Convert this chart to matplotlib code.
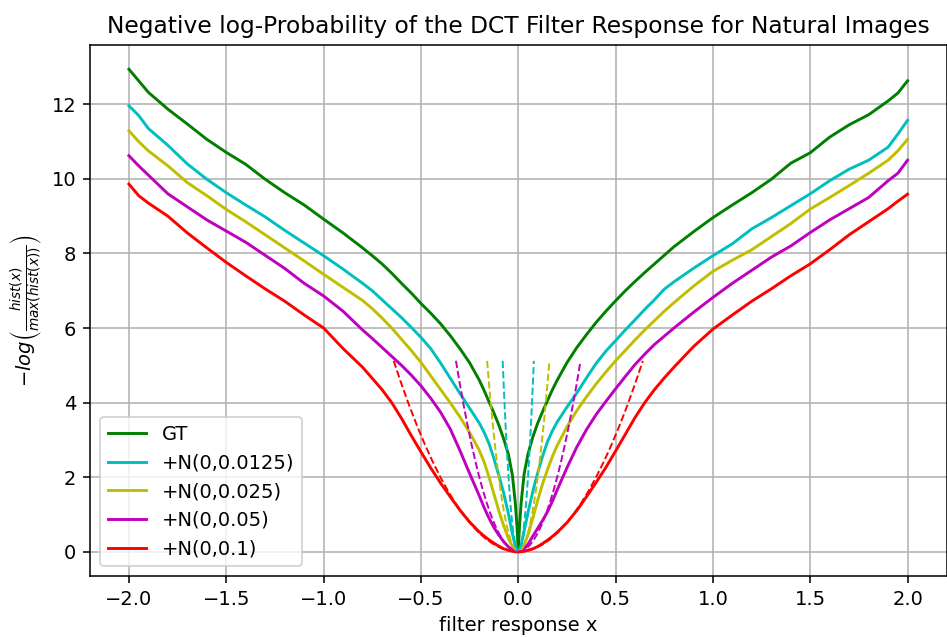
import matplotlib
matplotlib.use('Agg')
import matplotlib.pyplot as plt

# filter response grid shared by all histogram curves
x_resp = [-2.0, -1.95, -1.9, -1.8, -1.7, -1.6, -1.5, -1.4, -1.3, -1.2, -1.1, -1.0,
          -0.9, -0.8, -0.75, -0.7, -0.65, -0.6, -0.55, -0.5,
          -0.45, -0.4, -0.35, -0.3, -0.25, -0.2,
          -0.175, -0.15, -0.125, -0.1, -0.075, -0.05,
          -0.03, -0.015, -0.006, 0.0,
          0.006, 0.015, 0.03, 0.05, 0.075, 0.1, 0.125, 0.15, 0.175, 0.2,
          0.25, 0.3, 0.35, 0.4, 0.45, 0.5, 0.55, 0.6, 0.65, 0.7,
          0.75, 0.8, 0.9, 1.0, 1.1, 1.2, 1.3, 1.4, 1.5, 1.6,
          1.7, 1.8, 1.9, 1.95, 2.0]

gt = [12.94, 12.63, 12.32, 11.87, 11.47, 11.06, 10.71, 10.39, 9.99, 9.63, 9.30, 8.92,
      8.55, 8.15, 7.94, 7.72, 7.47, 7.20, 6.94, 6.66,
      6.40, 6.12, 5.80, 5.45, 5.07, 4.60,
      4.32, 4.02, 3.72, 3.40, 3.03, 2.60,
      2.05, 1.30, 0.65, 0.0,
      0.65, 1.32, 2.08, 2.62, 3.08, 3.45, 3.76, 4.05, 4.34, 4.60,
      5.07, 5.47, 5.82, 6.15, 6.45, 6.73, 7.00, 7.25, 7.49, 7.72,
      7.95, 8.18, 8.58, 8.96, 9.30, 9.63, 9.99, 10.42, 10.70, 11.12,
      11.45, 11.72, 12.09, 12.30, 12.63]

n0125 = [11.96, 11.70, 11.35, 10.90, 10.40, 9.99, 9.63, 9.30, 8.98, 8.62, 8.28, 7.94,
         7.58, 7.20, 7.00, 6.76, 6.52, 6.28, 6.02, 5.75,
         5.45, 5.07, 4.66, 4.25, 3.85, 3.45,
         3.20, 2.90, 2.50, 2.05, 1.58, 1.00,
         0.48, 0.15, 0.03, 0.0,
         0.03, 0.17, 0.55, 1.05, 1.62, 2.12, 2.56, 2.95, 3.24, 3.48,
         3.88, 4.25, 4.66, 5.05, 5.38, 5.66, 5.95, 6.22, 6.50, 6.76,
         7.04, 7.24, 7.60, 7.94, 8.26, 8.66, 8.96, 9.28, 9.60, 9.95,
         10.26, 10.50, 10.85, 11.20, 11.57]

n025 = [11.29, 11.00, 10.75, 10.35, 9.90, 9.55, 9.18, 8.85, 8.50, 8.15, 7.80, 7.44,
        7.09, 6.74, 6.52, 6.27, 6.00, 5.70, 5.40, 5.08,
        4.72, 4.36, 4.00, 3.62, 3.20, 2.72,
        2.40, 2.00, 1.55, 1.10, 0.70, 0.35,
        0.14, 0.04, 0.01, 0.0,
        0.01, 0.05, 0.18, 0.45, 0.90, 1.38, 1.82, 2.20, 2.55, 2.85,
        3.35, 3.78, 4.15, 4.50, 4.82, 5.12, 5.40, 5.68, 5.95, 6.20,
        6.45, 6.68, 7.12, 7.52, 7.82, 8.10, 8.45, 8.80, 9.19, 9.50,
        9.82, 10.15, 10.50, 10.75, 11.06]

n05 = [10.62, 10.35, 10.10, 9.60, 9.25, 8.90, 8.60, 8.30, 7.95, 7.60, 7.20, 6.86,
       6.45, 5.95, 5.72, 5.48, 5.24, 5.00, 4.74, 4.45,
       4.12, 3.75, 3.30, 2.72, 2.10, 1.50,
       1.18, 0.90, 0.65, 0.45, 0.27, 0.13,
       0.05, 0.01, 0.0, 0.0,
       0.0, 0.02, 0.07, 0.20, 0.42, 0.63, 0.84, 1.07, 1.35, 1.66,
       2.25, 2.80, 3.27, 3.68, 4.03, 4.37, 4.70, 5.02, 5.30, 5.56,
       5.78, 6.00, 6.42, 6.82, 7.20, 7.55, 7.90, 8.20, 8.56, 8.90,
       9.20, 9.50, 9.95, 10.15, 10.50]

n1 = [9.86, 9.55, 9.35, 9.00, 8.55, 8.15, 7.76, 7.40, 7.05, 6.72, 6.35, 6.00,
      5.45, 4.95, 4.65, 4.35, 4.00, 3.58, 3.12, 2.68,
      2.25, 1.85, 1.48, 1.12, 0.80, 0.53,
      0.42, 0.32, 0.23, 0.15, 0.08, 0.04,
      0.015, 0.0, 0.0, 0.0,
      0.0, 0.0, 0.015, 0.04, 0.08, 0.14, 0.22, 0.31, 0.41, 0.52,
      0.78, 1.10, 1.47, 1.86, 2.26, 2.70, 3.15, 3.60, 4.00, 4.35,
      4.66, 4.95, 5.50, 5.97, 6.35, 6.72, 7.05, 7.40, 7.72, 8.10,
      8.50, 8.85, 9.20, 9.40, 9.59]

# dashed quadratic guides: same heights, x span shrinks with the noise level
dash_y = [5.12, 4.50, 3.92, 3.38, 2.88, 2.42, 2.00, 1.62, 1.28, 0.98, 0.72, 0.50, 0.32, 0.18, 0.08, 0.02, 0.0,
          0.02, 0.08, 0.18, 0.32, 0.50, 0.72, 0.98, 1.28, 1.62, 2.00, 2.42, 2.88, 3.38, 3.92, 4.50, 5.12]
dash_x_01 = [-0.64, -0.60, -0.56, -0.52, -0.48, -0.44, -0.40, -0.36, -0.32, -0.28, -0.24, -0.20, -0.16, -0.12, -0.08, -0.04, 0.0,
             0.04, 0.08, 0.12, 0.16, 0.20, 0.24, 0.28, 0.32, 0.36, 0.40, 0.44, 0.48, 0.52, 0.56, 0.60, 0.64]
dash_x_005 = [-0.32, -0.30, -0.28, -0.26, -0.24, -0.22, -0.20, -0.18, -0.16, -0.14, -0.12, -0.10, -0.08, -0.06, -0.04, -0.02, 0.0,
              0.02, 0.04, 0.06, 0.08, 0.10, 0.12, 0.14, 0.16, 0.18, 0.20, 0.22, 0.24, 0.26, 0.28, 0.30, 0.32]
dash_x_0025 = [-0.16, -0.15, -0.14, -0.13, -0.12, -0.11, -0.10, -0.09, -0.08, -0.07, -0.06, -0.05, -0.04, -0.03, -0.02, -0.01, 0.0,
               0.01, 0.02, 0.03, 0.04, 0.05, 0.06, 0.07, 0.08, 0.09, 0.10, 0.11, 0.12, 0.13, 0.14, 0.15, 0.16]
dash_x_00125 = [-0.08, -0.075, -0.07, -0.065, -0.06, -0.055, -0.05, -0.045, -0.04, -0.035, -0.03, -0.025, -0.02, -0.015, -0.01, -0.005, 0.0,
                0.005, 0.01, 0.015, 0.02, 0.025, 0.03, 0.035, 0.04, 0.045, 0.05, 0.055, 0.06, 0.065, 0.07, 0.075, 0.08]

labels = ['GT', '+N(0,0.0125)', '+N(0,0.025)', '+N(0,0.05)', '+N(0,0.1)']
colors = ['g', 'c', 'y', 'm', 'r']

fig = plt.figure(figsize=(947 / 140, 637 / 140), dpi=140)
ax = fig.add_axes([90 / 947, 1 - 576 / 637, 856.5 / 947, 531 / 637])

for ys, lab, col in zip([gt, n0125, n025, n05, n1], labels, colors):
    ax.plot(x_resp, ys, color=col, label=lab, lw=1.5)

for dx, col in zip([dash_x_00125, dash_x_0025, dash_x_005, dash_x_01], colors[1:]):
    ax.plot(dx, dash_y, '--', color=col, lw=1.0)

ax.set_xlim(-2.2, 2.2)
ax.set_ylim(-0.65, 13.59)
ax.grid(True)
ax.set_xlabel('filter response x')
ax.set_ylabel(r'$-log\left(\frac{hist(x)}{max(hist(x))}\right)$')
ax.set_title('Negative log-Probability of the DCT Filter Response for Natural Images')
ax.legend(loc='lower left')

fig.savefig('out.png', dpi=140)
